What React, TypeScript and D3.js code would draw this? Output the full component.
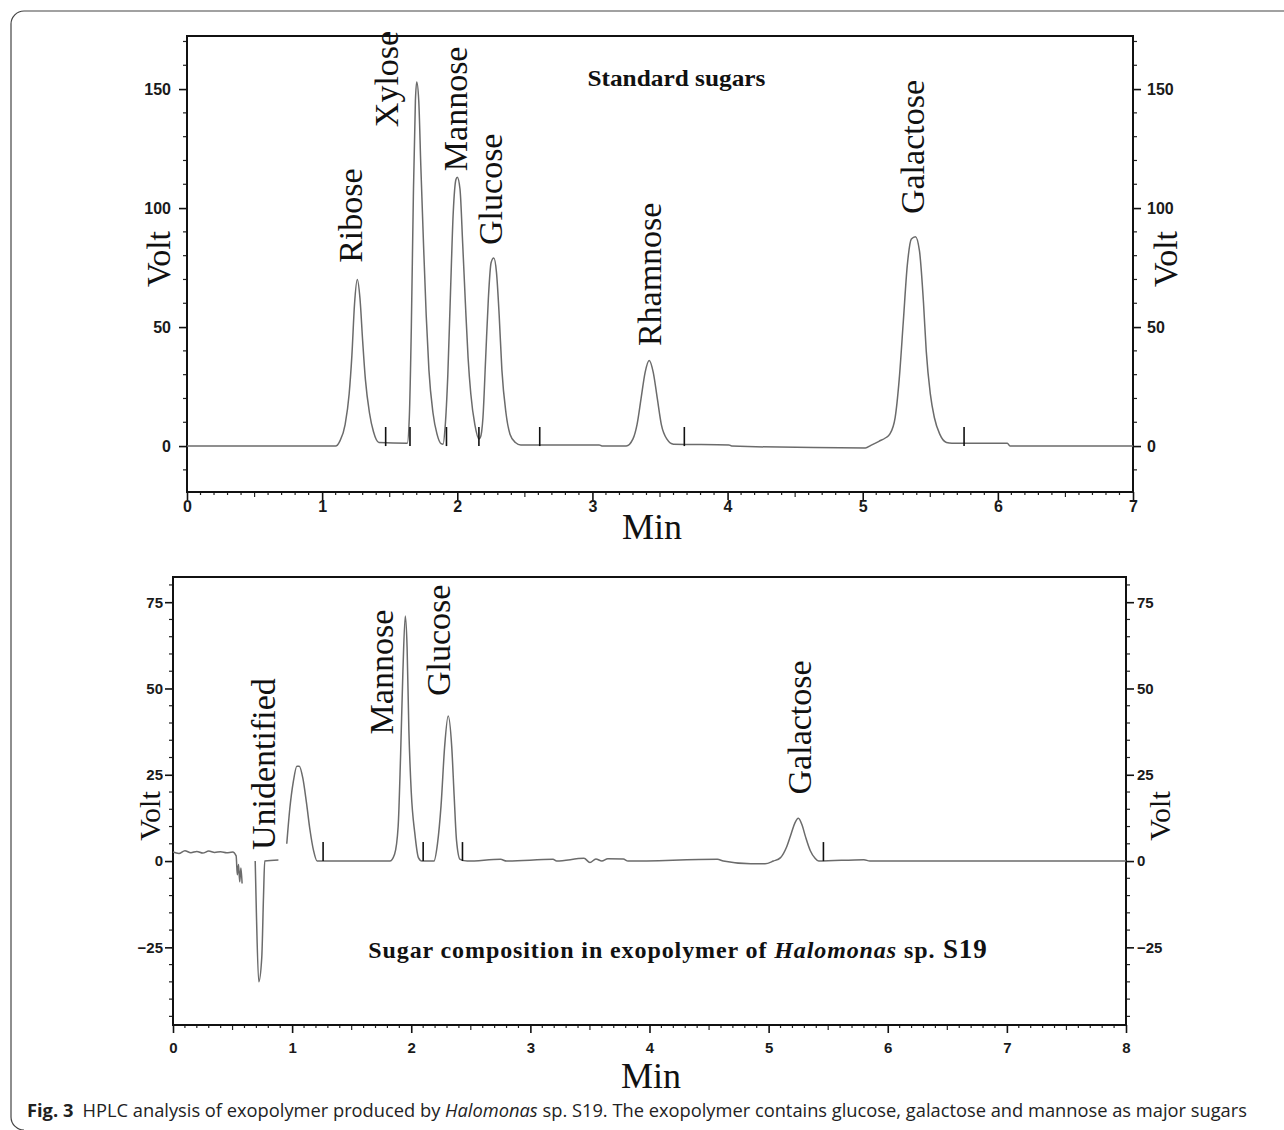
import { useEffect, useRef } from "react";
import * as d3 from "d3";

// HPLC traces: [retention time (min), detector response (volt)]
// NaN entries mark places where the original trace is blanked out
const standardTrace: [number, number][] = [
  [0, 0], [1.1, 0], [1.13, 2], [1.17, 9], [1.2, 22], [1.22, 38], [1.24, 60],
  [1.26, 70], [1.28, 62], [1.3, 44], [1.32, 28], [1.35, 14], [1.38, 6],
  [1.42, 1.5], [1.63, 1.2], [1.645, 12], [1.66, 50], [1.675, 105], [1.69, 145],
  [1.7, 153], [1.715, 145], [1.73, 118], [1.75, 85], [1.77, 55], [1.79, 32],
  [1.82, 14], [1.85, 5], [1.88, 1], [1.895, 0.8], [1.91, 8], [1.93, 30],
  [1.95, 65], [1.97, 98], [1.99, 112], [2.0, 113], [2.02, 108], [2.04, 85],
  [2.06, 60], [2.08, 37], [2.1, 22], [2.13, 9], [2.16, 3], [2.17, 3.5],
  [2.19, 12], [2.21, 37], [2.23, 62], [2.25, 77], [2.27, 79], [2.29, 73],
  [2.31, 55], [2.33, 32], [2.36, 14], [2.39, 5], [2.43, 1.5], [2.47, 0.5],
  [3.05, 0.5], [3.07, 0], [3.25, 0], [3.3, 3], [3.33, 9], [3.36, 20],
  [3.39, 31], [3.42, 36], [3.45, 31], [3.48, 20], [3.51, 9], [3.55, 3],
  [3.6, 0.8], [4.01, 0.5], [4.03, 0], [5.02, -0.8], [5.06, 0.3], [5.12, 2],
  [5.17, 3.5], [5.2, 5], [5.24, 12], [5.27, 28], [5.3, 52], [5.33, 76],
  [5.36, 87], [5.39, 88], [5.42, 82], [5.45, 60], [5.47, 40], [5.5, 22],
  [5.53, 12], [5.57, 5], [5.62, 1.5], [5.66, 1.2], [6.07, 1.2], [6.09, 0],
  [7, 0],
];
const standardMarks = [1.47, 1.65, 1.92, 2.16, 2.61, 3.68, 5.75];
const standardPeaks = ["Ribose", "Xylose", "Mannose", "Glucose", "Rhamnose", "Galactose"];
const standardPeakAt: [number, number][] = [
  [1.296, 77], [1.563, 134], [2.074, 115.5], [2.333, 84.5], [3.504, 42], [5.452, 97.5],
];
const standardXTicks = [0, 1, 2, 3, 4, 5, 6, 7];
const standardYTicks = [0, 50, 100, 150];

const sampleTrace: [number, number][] = [
  [0, 2.6], [0.05, 2.2], [0.1, 3.0], [0.15, 2.4], [0.2, 2.8], [0.25, 2.3],
  [0.3, 2.9], [0.35, 2.5], [0.4, 2.7], [0.45, 2.4], [0.5, 2.6], [0.53, 1.5],
  [0.54, -4], [0.55, -1], [0.56, -6], [0.57, -2], [0.58, -6.5], [NaN, NaN],
  [0.69, 0], [0.7, -15], [0.72, -35], [0.745, -28], [0.76, -10], [0.77, 0],
  [0.885, 0.3], [NaN, NaN], [0.955, 5], [0.98, 15], [1.01, 23], [1.04, 27.5],
  [1.06, 27.5], [1.09, 24], [1.12, 17], [1.15, 9], [1.18, 3], [1.21, 0],
  [1.82, 0], [1.86, 2], [1.89, 10], [1.91, 30], [1.93, 55], [1.95, 71],
  [1.965, 62], [1.98, 38], [2.0, 20], [2.03, 8], [2.06, 1], [2.09, 0],
  [2.19, 0], [2.22, 5], [2.25, 16], [2.28, 33], [2.31, 42], [2.34, 33],
  [2.36, 19], [2.38, 6], [2.41, 0.5], [2.47, 0], [2.75, 0.5], [2.8, 0],
  [3.19, 0.5], [3.22, 0], [3.45, 0.8], [3.5, -0.4], [3.55, 0.6], [3.6, 0],
  [3.65, 0.7], [3.78, 0.6], [3.82, 0], [4.57, 0.5], [4.62, 0], [4.85, -0.8],
  [4.97, -0.8], [5.04, 0], [5.1, 1], [5.15, 4], [5.19, 8], [5.22, 11],
  [5.25, 12.4], [5.28, 10.5], [5.31, 7], [5.35, 3], [5.39, 0.8], [5.42, 0],
  [5.8, 0.4], [5.85, 0], [8, 0],
];
const sampleMarks = [1.26, 2.1, 2.43, 5.46];
const samplePeaks = ["Unidentified", "Mannose", "Glucose", "Galactose"];
const samplePeakAt: [number, number][] = [
  [0.857, 3.2], [1.849, 36.7], [2.328, 47.8], [5.353, 19.3],
];
const sampleXTicks = [0, 1, 2, 3, 4, 5, 6, 7, 8];
const sampleYTicks = [-25, 0, 25, 50, 75];

const SERIF = "'Liberation Serif', 'Times New Roman', serif";
const SANS = "'Liberation Sans', Arial, sans-serif";

const drawPanel = (svg, p) => {
  const { x, y } = p;
  const [x0, x1] = x.range();
  const [yb, yt] = y.range();
  const g = svg.append("g");

  // minor ticks
  const minorX = d3.range(x.domain()[0], x.domain()[1] + 1e-9, 0.1).filter((d) => Math.abs(d - Math.round(d)) > 1e-6);
  g.selectAll(".mx")
    .data(minorX)
    .enter()
    .append("line")
    .attr("x1", (d) => x(d))
    .attr("x2", (d) => x(d))
    .attr("y1", yb)
    .attr("y2", (d) => yb + (Math.abs((d % 1) - 0.5) < 1e-6 ? 5 : 3))
    .attr("stroke", "#222")
    .attr("stroke-width", 1.2);

  const minorY = p.yMinor.filter((d) => !p.yTicks.includes(d));
  [x0, x1].forEach((ax, i) => {
    const dir = i === 0 ? -1 : 1;
    g.selectAll(".my" + i)
      .data(minorY)
      .enter()
      .append("line")
      .attr("x1", ax)
      .attr("x2", ax + dir * 4)
      .attr("y1", (d) => y(d))
      .attr("y2", (d) => y(d))
      .attr("stroke", "#222")
      .attr("stroke-width", 1.2);
  });

  // axes
  const styleAxis = (sel) => {
    sel.select(".domain").remove();
    sel.selectAll("line").attr("stroke", "#111").attr("stroke-width", 1.6);
    sel
      .selectAll("text")
      .attr("fill", "#1a1a1a")
      .style("font-family", SANS)
      .style("font-weight", "bold")
      .style("font-size", p.tickFont + "px");
  };
  g.append("g")
    .attr("transform", `translate(0,${yb})`)
    .call(d3.axisBottom(x).tickValues(p.xTicks).tickSize(8).tickPadding(p.xPad).tickFormat(d3.format("d")))
    .call(styleAxis);
  g.append("g")
    .attr("transform", `translate(${x0},0)`)
    .call(d3.axisLeft(y).tickValues(p.yTicks).tickSize(8).tickPadding(p.yPadL).tickFormat(d3.format("d")))
    .call(styleAxis);
  g.append("g")
    .attr("transform", `translate(${x1},0)`)
    .call(d3.axisRight(y).tickValues(p.yTicks).tickSize(8).tickPadding(p.yPadR).tickFormat(d3.format("d")))
    .call(styleAxis);

  // frame
  g.append("rect")
    .attr("x", x0)
    .attr("y", yt)
    .attr("width", x1 - x0)
    .attr("height", yb - yt)
    .attr("fill", "none")
    .attr("stroke", "#111")
    .attr("stroke-width", 2);

  // chromatogram
  const line = d3
    .line()
    .defined((d) => !Number.isNaN(d[0]))
    .x((d) => x(d[0]))
    .y((d) => y(d[1]))
    .curve(d3.curveMonotoneX);
  g.append("path")
    .datum(p.trace)
    .attr("fill", "none")
    .attr("stroke", "#6b6b6b")
    .attr("stroke-width", 1.5)
    .attr("d", line);

  // integration marks
  g.selectAll(".mark")
    .data(p.marks)
    .enter()
    .append("line")
    .attr("x1", (d) => x(d))
    .attr("x2", (d) => x(d))
    .attr("y1", y(0))
    .attr("y2", y(p.markH))
    .attr("stroke", "#111")
    .attr("stroke-width", 1.6);

  // peak names
  g.selectAll(".peak")
    .data(p.peaks)
    .enter()
    .append("text")
    .attr("transform", (d, i) => `translate(${x(p.peakAt[i][0])},${y(p.peakAt[i][1])}) rotate(-90)`)
    .attr("fill", "#111")
    .style("font-family", SERIF)
    .style("font-size", "34px")
    .text((d) => d);

  // Volt labels
  [x0 - p.voltOff, x1 + p.voltOffR].forEach((vx) => {
    g.append("text")
      .attr("transform", `translate(${vx},${p.voltY}) rotate(-90)`)
      .attr("text-anchor", "middle")
      .attr("fill", "#111")
      .style("font-family", SERIF)
      .style("font-size", p.voltFont + "px")
      .text("Volt");
  });

  // Min label
  g.append("text")
    .attr("x", p.minX)
    .attr("y", p.minY)
    .attr("text-anchor", "middle")
    .attr("fill", "#111")
    .style("font-family", SERIF)
    .style("font-size", p.minFont + "px")
    .text("Min");

  return g;
};

const App = () => {
  const svgRef = useRef(null);

  useEffect(() => {
    const svg = d3.select(svgRef.current);
    svg.selectAll("*").remove();

    // page border with rounded left corners
    svg
      .append("path")
      .attr("d", "M1284,11 H24 A13,13 0 0 0 11,24 V1117 A13,13 0 0 0 24,1130")
      .attr("fill", "none")
      .attr("stroke", "#444")
      .attr("stroke-width", 1.2);

    // top panel: standard sugars
    const xTop = d3.scaleLinear().domain([0, 7]).range([187, 1133]);
    const yTop = d3.scaleLinear().domain([-19.3, 172.3]).range([492, 36]);
    const top = drawPanel(svg, {
      x: xTop,
      y: yTop,
      trace: standardTrace,
      marks: standardMarks,
      markH: 8,
      peaks: standardPeaks,
      peakAt: standardPeakAt,
      xTicks: standardXTicks,
      yTicks: standardYTicks,
      yMinor: d3.range(-10, 171, 10),
      tickFont: 16,
      xPad: 1,
      yPadL: 8,
      yPadR: 6,
      voltOff: 17,
      voltOffR: 44,
      voltY: 259,
      voltFont: 34,
      minX: 652,
      minY: 539,
      minFont: 36,
    });
    top
      .append("text")
      .attr("x", xTop(2.963))
      .attr("y", yTop(151.3))
      .attr("textLength", 178)
      .attr("lengthAdjust", "spacingAndGlyphs")
      .attr("fill", "#111")
      .style("font-family", SERIF)
      .style("font-weight", "bold")
      .style("font-size", "24px")
      .text("Standard sugars");

    // bottom panel: Halomonas sp. S19 exopolymer
    const xBot = d3.scaleLinear().domain([0, 8]).range([173, 1126]);
    const yBot = d3.scaleLinear().domain([-47.5, 82.3]).range([1025, 577]);
    const bot = drawPanel(svg, {
      x: xBot,
      y: yBot,
      trace: sampleTrace,
      marks: sampleMarks,
      markH: 5.5,
      peaks: samplePeaks,
      peakAt: samplePeakAt,
      xTicks: sampleXTicks,
      yTicks: sampleYTicks,
      yMinor: d3.range(-45, 81, 5),
      tickFont: 15,
      xPad: 9,
      yPadL: 2,
      yPadR: 3,
      voltOff: 13,
      voltOffR: 44,
      voltY: 816,
      voltFont: 30,
      minX: 651,
      minY: 1088,
      minFont: 36,
    });
    const note = bot
      .append("text")
      .attr("x", xBot(1.639))
      .attr("y", yBot(-28.1))
      .attr("fill", "#111")
      .style("font-family", SERIF)
      .style("font-weight", "bold")
      .style("font-size", "24px")
      .style("letter-spacing", "0.9px");
    note.append("tspan").text("Sugar composition in exopolymer of ");
    note.append("tspan").style("font-style", "italic").text("Halomonas");
    note.append("tspan").text(" sp.");
    note.append("tspan").style("font-size", "27px").text(" S19");

    // figure caption
    const cap = svg
      .append("text")
      .attr("x", 27)
      .attr("y", 1117)
      .attr("fill", "#222")
      .style("font-family", "'Open Sans', sans-serif")
      .style("font-size", "18.3px");
    cap.append("tspan").style("font-weight", "bold").text("Fig. 3");
    cap.append("tspan").text("\u2002HPLC analysis of exopolymer produced by ");
    cap.append("tspan").style("font-style", "italic").text("Halomonas");
    cap
      .append("tspan")
      .text(" sp. S19. The exopolymer contains glucose, galactose and mannose as major sugars");
  }, []);

  return (
    <svg
      ref={svgRef}
      width={1284}
      height={1130}
      style={{ position: "absolute", left: 0, top: 0, background: "#fff" }}
    ></svg>
  );
};

export default App;
